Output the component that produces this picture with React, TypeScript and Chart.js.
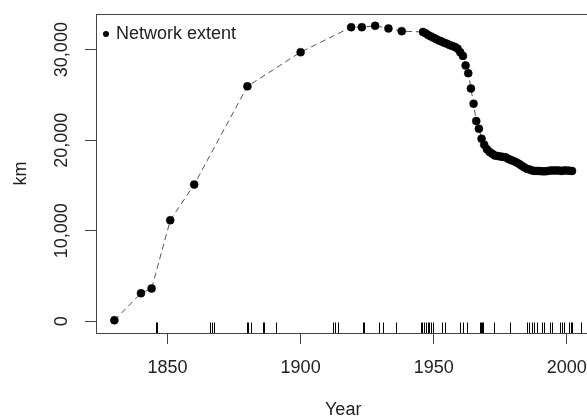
import React, { useEffect, useRef } from 'react';
import { Chart, registerables } from 'chart.js';

Chart.register(...registerables);

const years = [
  1830, 1840, 1844, 1851, 1860, 1880, 1900, 1919, 1923, 1928, 1933, 1938,
  1946, 1947, 1948, 1949, 1950, 1951, 1952, 1953, 1954, 1955, 1956, 1957, 1958, 1959,
  1960, 1961, 1962, 1963, 1964, 1965, 1966, 1967, 1968, 1969, 1970, 1971, 1972, 1973,
  1974, 1975, 1976, 1977, 1978, 1979, 1980, 1981, 1982, 1983, 1984, 1985, 1986, 1987,
  1988, 1989, 1990, 1991, 1992, 1993, 1994, 1995, 1996, 1997, 1998, 1999, 2000, 2001, 2002,
];

const networkKm = [
  100, 3090, 3610, 11150, 15090, 25940, 29720, 32480, 32480, 32630, 32340, 32040,
  31950, 31800, 31600, 31450, 31300, 31150, 31000, 30900, 30750, 30650, 30500, 30400, 30300, 30100,
  29700, 29300, 28250, 27400, 25700, 24030, 22110, 21270, 20160, 19500, 19000, 18700, 18500, 18300,
  18250, 18200, 18150, 18100, 17950, 17800, 17700, 17550, 17400, 17200, 17000, 16850, 16750, 16650,
  16600, 16600, 16580, 16550, 16550, 16600, 16650, 16650, 16650, 16650, 16600, 16650, 16650, 16620, 16600,
];

const rugYears = [
  1845.8, 1846.2, 1865.9, 1866.6, 1867.5, 1879.9, 1880.3, 1881.4, 1885.8, 1886.2, 1890.8,
  1912.2, 1913.1, 1914.1, 1923.4, 1923.8, 1929.5, 1930.8, 1936.0,
  1945.1, 1945.8, 1946.5, 1947.3, 1947.7, 1948.1, 1948.9, 1949.6, 1953.3, 1954.3,
  1960.0, 1961.0, 1962.5, 1967.5, 1967.9, 1968.3, 1968.7, 1972.8, 1978.5,
  1985.0, 1985.8, 1986.8, 1987.7, 1988.7, 1990.6, 1991.6, 1993.7, 1994.6,
  1997.4, 1998.2, 1999.0, 2000.9, 2001.5, 2002.1, 2005.2,
];

const xTicks = [1850, 1900, 1950, 2000];
const yTicks = [0, 10000, 20000, 30000];
const seriesLabel = 'Network extent';
const xTitle = 'Year';
const yTitle = 'km';

const FONT = '"Liberation Sans", Arial, sans-serif';
const TEXT = '#222';
const AXIS = '#444';

const boxPlugin = {
  id: 'boxTop',
  afterDraw(chart: any) {
    const { ctx, chartArea } = chart;
    ctx.save();
    ctx.strokeStyle = AXIS;
    ctx.lineWidth = 1;
    ctx.beginPath();
    const y = Math.round(chartArea.top) + 0.5;
    ctx.moveTo(chartArea.left, y);
    ctx.lineTo(chartArea.right, y);
    ctx.stroke();
    ctx.restore();
  },
};

const rugPlugin = {
  id: 'rug',
  afterDatasetsDraw(chart: any) {
    const { ctx, chartArea } = chart;
    const xs = chart.scales.x;
    ctx.save();
    ctx.strokeStyle = '#000';
    ctx.lineWidth = 1;
    ctx.beginPath();
    rugYears.forEach((yr) => {
      const x = Math.round(xs.getPixelForValue(yr)) + 0.5;
      ctx.moveTo(x, chartArea.bottom);
      ctx.lineTo(x, chartArea.bottom - 10.5);
    });
    ctx.stroke();
    ctx.restore();
  },
};

const legendPlugin = {
  id: 'legendInside',
  afterDraw(chart: any) {
    const { ctx, chartArea } = chart;
    const cy = chartArea.top + 20;
    ctx.save();
    ctx.fillStyle = '#000';
    ctx.beginPath();
    ctx.arc(chartArea.left + 10, cy, 3, 0, Math.PI * 2);
    ctx.fill();
    ctx.fillStyle = TEXT;
    ctx.font = `18px ${FONT}`;
    ctx.textAlign = 'left';
    ctx.textBaseline = 'middle';
    ctx.fillText(seriesLabel, chartArea.left + 20, cy);
    ctx.restore();
  },
};

export default function App() {
  const ref = useRef<HTMLCanvasElement | null>(null);

  useEffect(() => {
    if (!ref.current) return;
    const points = years.map((yr, i) => ({ x: yr, y: networkKm[i] }));
    const chart = new Chart(ref.current, {
      type: 'scatter',
      data: {
        datasets: [
          {
            label: seriesLabel,
            data: points,
            showLine: true,
            borderColor: '#555',
            borderWidth: 1,
            borderDash: [6, 4],
            pointRadius: 4,
            pointBackgroundColor: '#000',
            pointBorderColor: '#000',
            pointBorderWidth: 0.5,
          } as any,
        ],
      },
      options: {
        animation: false,
        responsive: false,
        devicePixelRatio: 1,
        layout: { padding: { left: 0, top: 14, right: 5.5, bottom: 0 } },
        plugins: { legend: { display: false }, tooltip: { enabled: false } },
        scales: {
          x: {
            type: 'linear',
            min: 1823.1,
            max: 2008.9,
            afterBuildTicks: (axis: any) => {
              axis.ticks = xTicks.map((v) => ({ value: v }));
            },
            afterFit: (axis: any) => {
              axis.height = 86;
            },
            grid: { drawOnChartArea: false, drawTicks: true, tickLength: 11, color: AXIS },
            border: { display: true, color: AXIS },
            ticks: {
              autoSkip: false,
              maxRotation: 0,
              minRotation: 0,
              padding: 13,
              color: TEXT,
              font: { family: FONT, size: 18 },
              callback: (v: any) => String(v),
            },
            title: {
              display: true,
              text: xTitle,
              color: TEXT,
              font: { family: FONT, size: 18, lineHeight: 1 },
              padding: { top: 0, bottom: 0 },
            },
          },
          y: {
            type: 'linear',
            min: -1305,
            max: 33935,
            afterBuildTicks: (axis: any) => {
              axis.ticks = yTicks.map((v) => ({ value: v }));
            },
            afterFit: (axis: any) => {
              axis.width = 96;
            },
            grid: { drawOnChartArea: false, drawTicks: true, tickLength: 11, color: AXIS },
            border: { display: true, color: AXIS },
            ticks: {
              autoSkip: false,
              minRotation: 90,
              maxRotation: 90,
              crossAlign: 'center',
              padding: -5,
              color: TEXT,
              font: { family: FONT, size: 18 },
              callback: (v: any) => Number(v).toLocaleString('en-US'),
            },
            title: {
              display: true,
              text: yTitle,
              color: TEXT,
              font: { family: FONT, size: 18, lineHeight: 1 },
              padding: { top: 12, bottom: 0 },
            },
          },
        },
      },
      plugins: [boxPlugin, rugPlugin, legendPlugin],
    });
    return () => chart.destroy();
  }, []);

  return (
    <div
      style={{
        position: 'fixed',
        left: 0,
        top: 0,
        width: 587,
        height: 419,
        overflow: 'hidden',
        background: '#fff',
      }}
    >
      <canvas ref={ref} width={600} height={419} style={{ display: 'block', width: 600, height: 419 }} />
    </div>
  );
}
